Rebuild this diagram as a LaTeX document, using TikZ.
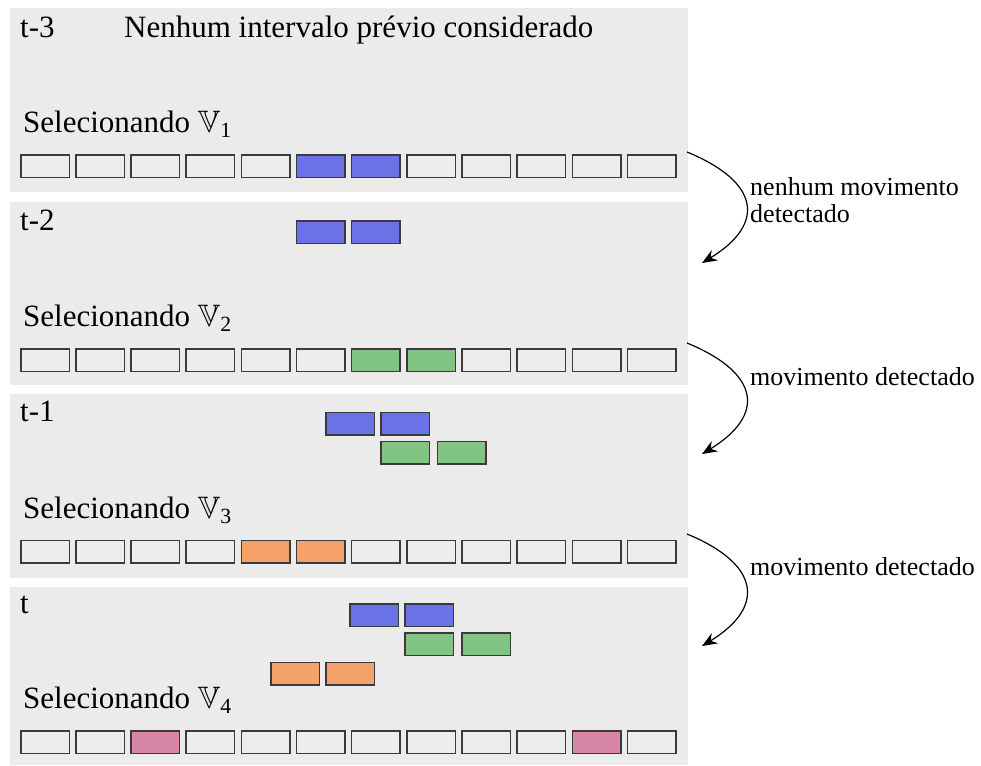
\documentclass[tikz,border=0pt]{standalone}
\usepackage{amssymb}
\usepackage{fontspec}
\setmainfont{Liberation Serif}
\usetikzlibrary{arrows.meta}
\definecolor{panelgray}{HTML}{EBEBEB}
\definecolor{cellgray}{HTML}{EDEDED}
\definecolor{cellborder}{HTML}{3A3A3A}
\definecolor{vblue}{HTML}{6B72E8}
\definecolor{vgreen}{HTML}{82C482}
\definecolor{vorange}{HTML}{F5A268}
\definecolor{vpink}{HTML}{D886A6}
\newcommand{\selV}[1]{Selecionando $\mathbb{V}_{\mathrm{#1}}$}
\begin{document}
\begin{tikzpicture}[x=1pt,y=-1pt,
  panel/.style={fill=panelgray, draw=none, inner sep=0pt, outer sep=0pt, anchor=north west, minimum width=678pt, minimum height=183.5pt},
  cell/.style={draw=cellborder, line width=1.5pt, inner sep=0pt, outer sep=0pt, anchor=north west, minimum width=48.5pt, minimum height=22.5pt, fill=#1},
  cell/.default=cellgray,
  bigtxt/.style={anchor=base west, inner sep=0pt, font=\fontsize{31}{36}\selectfont},
  smalltxt/.style={anchor=base west, inner sep=0pt, font=\fontsize{26}{30}\selectfont},
  arr/.style={line width=1.2pt, -{Stealth[length=15pt, width=12pt, inset=5pt]}}
]
\useasboundingbox (0,0) rectangle (981,765);

% panels
\node[panel] (p1) at (10,8) {};
\node[panel] (p2) at (10,201.5) {};
\node[panel] (p3) at (10,394) {};
\node[panel, minimum height=178pt] (p4) at (10,587) {};

% panel 1
\node[bigtxt] (t1) at (20,38) {t-3};
\node[bigtxt] (n1) at (124,38) {Nenhum intervalo prévio considerado};
\node[bigtxt] (s1) at (23,132) {\selV{1}};
\foreach \i/\c in {0/cellgray,1/cellgray,2/cellgray,3/cellgray,4/cellgray,5/vblue,6/vblue,7/cellgray,8/cellgray,9/cellgray,10/cellgray,11/cellgray}
  \node[cell=\c] (ra\i) at ({20.75+\i*55.15},154.75) {};

% panel 2
\node[bigtxt] (t2) at (20,230) {t-2};
\node[cell=vblue] (fb21) at (296.5,220.75) {};
\node[cell=vblue] (fb22) at (351.5,220.75) {};
\node[bigtxt] (s2) at (23,326) {\selV{2}};
\foreach \i/\c in {0/cellgray,1/cellgray,2/cellgray,3/cellgray,4/cellgray,5/cellgray,6/vgreen,7/vgreen,8/cellgray,9/cellgray,10/cellgray,11/cellgray}
  \node[cell=\c] (rb\i) at ({20.75+\i*55.15},348.75) {};

% panel 3
\node[bigtxt] (t3) at (20,421.5) {t-1};
\node[cell=vblue] (fb31) at (325.75,412.25) {};
\node[cell=vblue] (fb32) at (380.75,412.25) {};
\node[cell=vgreen] (fg31) at (380.75,441.25) {};
\node[cell=vgreen] (fg32) at (437.25,441.25) {};
\node[bigtxt] (s3) at (23,518) {\selV{3}};
\foreach \i/\c in {0/cellgray,1/cellgray,2/cellgray,3/cellgray,4/vorange,5/vorange,6/cellgray,7/cellgray,8/cellgray,9/cellgray,10/cellgray,11/cellgray}
  \node[cell=\c] (rc\i) at ({20.75+\i*55.15},540.25) {};

% panel 4
\node[bigtxt] (t4) at (20,613) {t};
\node[cell=vblue] (fb41) at (350,604) {};
\node[cell=vblue] (fb42) at (405,604) {};
\node[cell=vgreen] (fg41) at (405,633) {};
\node[cell=vgreen] (fg42) at (461.75,633) {};
\node[cell=vorange] (fo41) at (271,662.5) {};
\node[cell=vorange] (fo42) at (325.75,662.5) {};
\node[bigtxt] (s4) at (23,708) {\selV{4}};
\foreach \i/\c in {0/cellgray,1/cellgray,2/vpink,3/cellgray,4/cellgray,5/cellgray,6/cellgray,7/cellgray,8/cellgray,9/cellgray,10/vpink,11/cellgray}
  \node[cell=\c] (rd\i) at ({20.75+\i*55.15},730.75) {};

% arrows
\coordinate (a1s) at (687,152);
\coordinate (a1e) at (702,263);
\coordinate (a2s) at (687,343);
\coordinate (a2e) at (702,454);
\coordinate (a3s) at (687,534);
\coordinate (a3e) at (702,646);
\draw[arr] (a1s) .. controls (760,182) and (766,224) .. (a1e);
\draw[arr] (a2s) .. controls (760,373) and (766,415) .. (a2e);
\draw[arr] (a3s) .. controls (760,564) and (766,607) .. (a3e);

% labels
\node[smalltxt] (l1a) at (750,195) {nenhum movimento};
\node[smalltxt] (l1b) at (750,222) {detectado};
\node[smalltxt] (l2) at (750,385) {movimento detectado};
\node[smalltxt] (l3) at (750,575) {movimento detectado};
\end{tikzpicture}
\end{document}
